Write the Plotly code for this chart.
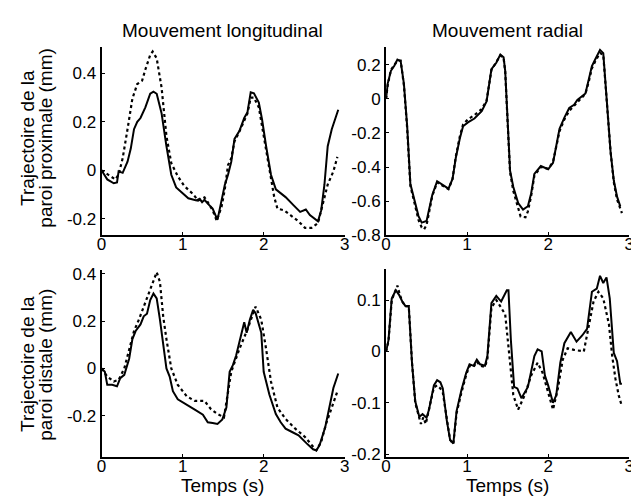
import plotly.graph_objects as go

# Mouvement longitudinal, paroi proximale
lp_t = [0, 0.07, 0.15, 0.19, 0.21, 0.26, 0.32, 0.36, 0.40, 0.44, 0.48, 0.54, 0.60, 0.64, 0.68,
        0.74, 0.80, 0.86, 0.92, 0.98, 1.07, 1.17, 1.21, 1.24, 1.27, 1.31, 1.37, 1.43, 1.48, 1.52,
        1.56, 1.60, 1.64, 1.70, 1.76, 1.80, 1.84, 1.88, 1.94, 1.98, 2.03, 2.09, 2.15, 2.27, 2.37,
        2.45, 2.52, 2.57, 2.67, 2.71, 2.75, 2.79, 2.84, 2.92]
lp_solid = [0, -0.037, -0.053, -0.05, -0.004, -0.01, 0.036, 0.09, 0.17, 0.20, 0.216, 0.26, 0.316,
            0.325, 0.316, 0.236, 0.10, -0.018, -0.07, -0.087, -0.115, -0.124, -0.117, -0.131,
            -0.121, -0.137, -0.157, -0.204, -0.12, -0.06, -0.018, 0.036, 0.13, 0.162, 0.216, 0.24,
            0.322, 0.318, 0.28, 0.21, 0.10, -0.018, -0.078, -0.11, -0.144, -0.171, -0.161, -0.184,
            -0.21, -0.164, -0.058, 0.10, 0.17, 0.25]
lp_t2 = [0, 0.11, 0.17, 0.21, 0.26, 0.32, 0.38, 0.44, 0.50, 0.54, 0.60, 0.63, 0.68, 0.74, 0.80,
         0.86, 0.94, 1.02, 1.13, 1.19, 1.27, 1.31, 1.37, 1.42, 1.48, 1.52, 1.56, 1.60, 1.64, 1.70,
         1.76, 1.80, 1.84, 1.88, 1.94, 1.98, 2.03, 2.09, 2.13, 2.17, 2.25, 2.33, 2.43, 2.51, 2.59,
         2.67, 2.73, 2.79, 2.86, 2.91]
lp_dash = [0, -0.024, -0.037, -0.017, 0.05, 0.17, 0.296, 0.356, 0.37, 0.416, 0.476, 0.49, 0.462,
           0.342, 0.142, 0.03, -0.024, -0.064, -0.098, -0.124, -0.111, -0.131, -0.164, -0.207,
           -0.15, -0.078, 0.022, 0.05, 0.12, 0.16, 0.21, 0.235, 0.30, 0.30, 0.26, 0.18, 0.09,
           -0.044, -0.11, -0.158, -0.164, -0.184, -0.21, -0.237, -0.237, -0.217, -0.137, -0.058,
           -0.004, 0.056]

# Mouvement radial, paroi proximale
rp_t = [0, 0.02, 0.06, 0.10, 0.14, 0.18, 0.22, 0.26, 0.30, 0.35, 0.40, 0.44, 0.50, 0.53, 0.57,
        0.63, 0.71, 0.77, 0.82, 0.86, 0.91, 0.95, 1.01, 1.09, 1.18, 1.24, 1.30, 1.36, 1.41, 1.45,
        1.47, 1.50, 1.53, 1.57, 1.63, 1.69, 1.75, 1.79, 1.83, 1.91, 2.00, 2.06, 2.14, 2.20, 2.26,
        2.32, 2.36, 2.46, 2.50, 2.54, 2.58, 2.64, 2.68, 2.73, 2.77, 2.81, 2.85, 2.89]
rp_solid = [0, 0.09, 0.165, 0.193, 0.231, 0.222, 0.09, -0.157, -0.50, -0.593, -0.688, -0.726,
            -0.716, -0.65, -0.564, -0.483, -0.507, -0.527, -0.47, -0.347, -0.233, -0.161, -0.138,
            -0.115, -0.072, -0.015, 0.174, 0.212, 0.26, 0.244, 0.165, -0.138, -0.422, -0.517,
            -0.612, -0.65, -0.63, -0.555, -0.44, -0.394, -0.413, -0.375, -0.176, -0.11, -0.053,
            -0.034, -0.006, 0.032, 0.108, 0.193, 0.231, 0.288, 0.269, -0.044, -0.309, -0.479,
            -0.574, -0.631]
rp_t2 = [0, 0.02, 0.06, 0.10, 0.14, 0.18, 0.22, 0.26, 0.30, 0.35, 0.40, 0.44, 0.47, 0.50, 0.53,
         0.57, 0.63, 0.71, 0.77, 0.82, 0.86, 0.91, 0.95, 1.01, 1.09, 1.18, 1.24, 1.30, 1.36, 1.41,
         1.45, 1.47, 1.50, 1.53, 1.57, 1.63, 1.66, 1.72, 1.75, 1.79, 1.83, 1.91, 2.00, 2.06, 2.14,
         2.20, 2.26, 2.32, 2.36, 2.46, 2.50, 2.54, 2.58, 2.64, 2.68, 2.73, 2.77, 2.81, 2.85, 2.91]
rp_dash = [0, 0.08, 0.17, 0.20, 0.225, 0.225, 0.08, -0.17, -0.51, -0.61, -0.71, -0.755, -0.765,
           -0.74, -0.67, -0.57, -0.49, -0.51, -0.53, -0.47, -0.34, -0.22, -0.15, -0.12, -0.095,
           -0.06, -0.01, 0.17, 0.22, 0.255, 0.24, 0.16, -0.14, -0.43, -0.54, -0.65, -0.69,
           -0.695, -0.66, -0.57, -0.45, -0.40, -0.41, -0.37, -0.19, -0.12, -0.07, -0.04, -0.02,
           0.03, 0.10, 0.18, 0.22, 0.27, 0.26, -0.05, -0.31, -0.49, -0.59, -0.67]

# Mouvement longitudinal, paroi distale
ld_t = [0, 0.04, 0.07, 0.13, 0.19, 0.23, 0.28, 0.34, 0.38, 0.42, 0.48, 0.52, 0.56, 0.60, 0.64,
        0.68, 0.72, 0.76, 0.80, 0.84, 0.88, 0.94, 1.02, 1.10, 1.16, 1.25, 1.31, 1.37, 1.43, 1.49,
        1.54, 1.58, 1.62, 1.66, 1.70, 1.76, 1.79, 1.83, 1.87, 1.90, 1.97, 2.00, 2.07, 2.15, 2.21,
        2.27, 2.35, 2.43, 2.53, 2.61, 2.65, 2.69, 2.76, 2.82, 2.86, 2.92]
ld_solid = [0, -0.014, -0.069, -0.069, -0.075, -0.041, -0.027, 0.041, 0.124, 0.158, 0.186, 0.22,
            0.231, 0.289, 0.316, 0.296, 0.206, 0.096, 0.0, -0.034, -0.096, -0.13, -0.148, -0.165,
            -0.176, -0.195, -0.227, -0.23, -0.234, -0.215, -0.165, -0.014, 0.014, 0.055, 0.11,
            0.195, 0.151, 0.206, 0.247, 0.234, 0.151, -0.014, -0.11, -0.192, -0.227, -0.254,
            -0.268, -0.282, -0.316, -0.341, -0.346, -0.323, -0.247, -0.151, -0.082, -0.021]
ld_t2 = [0, 0.07, 0.15, 0.21, 0.28, 0.34, 0.40, 0.46, 0.52, 0.58, 0.64, 0.68, 0.72, 0.76, 0.80,
         0.86, 0.94, 1.05, 1.15, 1.27, 1.35, 1.43, 1.51, 1.55, 1.60, 1.70, 1.80, 1.90, 1.97, 2.03,
         2.09, 2.17, 2.27, 2.39, 2.51, 2.61, 2.65, 2.71, 2.77, 2.84, 2.91]
ld_dash = [0, -0.034, -0.055, -0.048, 0.0, 0.082, 0.158, 0.206, 0.261, 0.323, 0.378, 0.406, 0.365,
           0.22, 0.124, 0.0, -0.069, -0.117, -0.137, -0.137, -0.172, -0.192, -0.206, -0.12,
           -0.014, 0.082, 0.165, 0.261, 0.206, 0.082, -0.055, -0.165, -0.213, -0.254, -0.289,
           -0.33, -0.345, -0.309, -0.233, -0.165, -0.096]

# Mouvement radial, paroi distale
rd_t = [0, 0.03, 0.07, 0.12, 0.16, 0.20, 0.24, 0.28, 0.32, 0.36, 0.41, 0.45, 0.50, 0.53, 0.59,
        0.63, 0.67, 0.70, 0.75, 0.79, 0.83, 0.87, 0.93, 0.99, 1.03, 1.08, 1.12, 1.16, 1.22, 1.25,
        1.30, 1.36, 1.42, 1.49, 1.51, 1.54, 1.58, 1.62, 1.67, 1.75, 1.83, 1.87, 1.92, 1.96, 2.00,
        2.06, 2.10, 2.15, 2.20, 2.28, 2.35, 2.42, 2.48, 2.54, 2.60, 2.64, 2.68, 2.72, 2.76, 2.81,
        2.85, 2.89, 2.91]
rd_solid = [0, 0.022, 0.103, 0.119, 0.11, 0.097, 0.088, 0.088, -0.022, -0.097, -0.127, -0.122,
            -0.129, -0.113, -0.066, -0.056, -0.06, -0.072, -0.135, -0.172, -0.179, -0.116, -0.075,
            -0.041, -0.025, -0.028, -0.016, -0.025, -0.028, -0.009, 0.094, 0.108, 0.097, 0.119,
            0.119, 0.022, -0.069, -0.072, -0.091, -0.069, -0.009, 0.004, 0.0, -0.047, -0.066,
            -0.10, -0.085, -0.022, 0.016, 0.038, 0.019, 0.031, 0.044, 0.116, 0.122, 0.147, 0.133,
            0.144, 0.103, -0.003, -0.019, -0.063, -0.063]
rd_t2 = [0, 0.03, 0.07, 0.14, 0.17, 0.20, 0.24, 0.28, 0.32, 0.36, 0.43, 0.46, 0.49, 0.53, 0.59,
         0.63, 0.67, 0.70, 0.75, 0.79, 0.83, 0.87, 0.93, 0.99, 1.03, 1.08, 1.12, 1.16, 1.22, 1.25,
         1.30, 1.36, 1.42, 1.47, 1.53, 1.57, 1.63, 1.71, 1.79, 1.87, 1.93, 2.00, 2.06, 2.12, 2.18,
         2.24, 2.32, 2.44, 2.50, 2.56, 2.62, 2.68, 2.75, 2.79, 2.83, 2.87, 2.91]
rd_dash = [0, 0.02, 0.10, 0.128, 0.11, 0.097, 0.088, 0.088, -0.022, -0.10, -0.141, -0.128, -0.141,
           -0.115, -0.07, -0.066, -0.072, -0.08, -0.135, -0.172, -0.18, -0.12, -0.08, -0.045,
           -0.028, -0.03, -0.02, -0.028, -0.03, -0.015, 0.085, 0.10, 0.085, 0.072, -0.022,
           -0.085, -0.113, -0.085, -0.047, -0.022, -0.041, -0.078, -0.113, -0.072, -0.016,
           0.006, 0.003, 0.0, 0.047, 0.097, 0.116, 0.103, 0.053, -0.009, -0.053, -0.085, -0.107]

col_titles = ["Mouvement longitudinal", "Mouvement radial"]
row_labels = [["Trajectoire de la", "paroi proximale (mm)"],
              ["Trajectoire de la", "paroi distale (mm)"]]
x_label = "Temps (s)"
x_ticks = [0, 1, 2, 3]

W, H = 639, 504
FONT = "Liberation Sans, Arial, sans-serif"


def px(x):
    return x / W


def py(y):
    return 1 - y / H


panels = [
    # (t solid, solid, t dash, dash, y range, y ticks, x px domain, y px domain)
    (lp_t, lp_solid, lp_t2, lp_dash, [-0.267, 0.509], [-0.2, 0, 0.2, 0.4], (90, 337), (35, 229)),
    (rp_t, rp_solid, rp_t2, rp_dash, [-0.8, 0.305], [-0.8, -0.6, -0.4, -0.2, 0, 0.2], (379, 626), (35, 229)),
    (ld_t, ld_solid, ld_t2, ld_dash, [-0.375, 0.415], [-0.2, 0, 0.2, 0.4], (90, 337), (265, 458)),
    (rd_t, rd_solid, rd_t2, rd_dash, [-0.206, 0.16], [-0.2, -0.1, 0, 0.1], (379, 626), (264, 458)),
]

fig = go.Figure()
layout = {}
for i, (t1, s1, t2, s2, yr, yt, xd, yd) in enumerate(panels):
    n = "" if i == 0 else str(i + 1)
    fig.add_trace(go.Scatter(x=t2, y=s2, mode="lines", xaxis="x" + n, yaxis="y" + n,
                             line=dict(color="black", width=2.2, dash="3px,3px"), showlegend=False))
    fig.add_trace(go.Scatter(x=t1, y=s1, mode="lines", xaxis="x" + n, yaxis="y" + n,
                             line=dict(color="black", width=2), showlegend=False))
    common = dict(showgrid=False, zeroline=False, showline=True, linecolor="black", linewidth=2,
                  ticks="inside", ticklen=3, tickwidth=1, tickcolor="black",
                  tickfont=dict(family=FONT, size=17, color="black"))
    layout["xaxis" + n] = dict(domain=[px(xd[0]), px(xd[1])], range=[0, 3], anchor="y" + n,
                               tickvals=x_ticks, ticktext=[str(v) for v in x_ticks],
                               ticklabelstandoff=-8, **common)
    layout["yaxis" + n] = dict(domain=[py(yd[1]), py(yd[0])], range=yr, anchor="x" + n,
                               tickvals=yt, ticktext=["%g" % v for v in yt], **common)

ann = []
title_font = dict(family=FONT, size=19, color="black")
for xc, title in zip([213, 502], col_titles):
    ann.append(dict(x=px(xc), y=py(18), text=title, showarrow=False, font=title_font,
                    xref="paper", yref="paper", xanchor="center", yanchor="middle"))
    ann.append(dict(x=px(xc), y=py(487), text=x_label, showarrow=False, font=title_font,
                    xref="paper", yref="paper", xanchor="center", yanchor="middle"))
for yc, lines in zip([129, 362], row_labels):
    for xc, line in zip([14, 33], lines):
        ann.append(dict(x=px(xc), y=py(yc), text=line, showarrow=False, font=title_font,
                        textangle=-90, xref="paper", yref="paper",
                        xanchor="center", yanchor="middle"))

fig.update_layout(width=W, height=H, margin=dict(l=0, r=0, t=0, b=0),
                  plot_bgcolor="white", paper_bgcolor="white", annotations=ann, **layout)
fig.write_html("out.html")
